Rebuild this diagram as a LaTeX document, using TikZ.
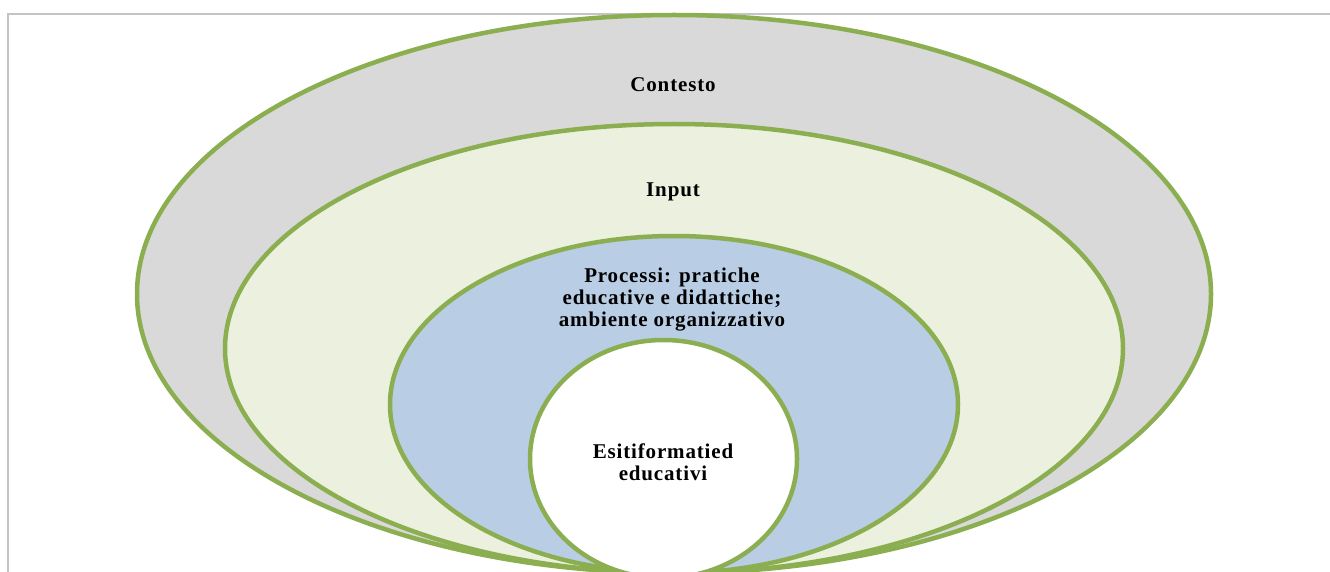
\documentclass[tikz,border=0pt]{standalone}
\usepackage{fontspec}
\setmainfont{Liberation Serif}[LetterSpace=4]
\definecolor{ringgreen}{HTML}{8BAF50}
\definecolor{ctxgrey}{HTML}{D9D9D9}
\definecolor{inputgreen}{HTML}{EBF1DE}
\definecolor{procblue}{HTML}{B9CDE5}
\definecolor{framegrey}{HTML}{C4C4C4}
\begin{document}
\begin{tikzpicture}[x=1pt,y=-1pt,
  ring/.style={draw=ringgreen,line width=4.5pt},
  label/.style={font=\fontsize{21}{22}\selectfont\bfseries,text=black,align=center,inner sep=0pt}]
\useasboundingbox (0,0) rectangle (1330,572);
\clip (0,0) rectangle (1330,572);
% outer frame
\draw[framegrey,line width=1.5pt] (8,14) rectangle (1345,590);
% nested rings, outermost first
\draw[ring,fill=ctxgrey] (674,294) ellipse [x radius=537,y radius=279];
\draw[ring,fill=inputgreen] (674,348.5) ellipse [x radius=449,y radius=224.5];
\draw[ring,fill=procblue] (674,404.5) ellipse [x radius=284,y radius=168.5];
\draw[ring,fill=white] (663.5,459) ellipse [x radius=133.5,y radius=119];
% labels
\node[label] (contesto) at (673,85) {Contesto};
\node[label] (input) at (673,192) {Input};
\node[label] (processi) at (672,300) {Processi: pratiche\\educative e didattiche;\\ambiente organizzativo};
\node[label] (esiti) at (663,462) {Esitiformatied\\educativi};
\end{tikzpicture}
\end{document}
